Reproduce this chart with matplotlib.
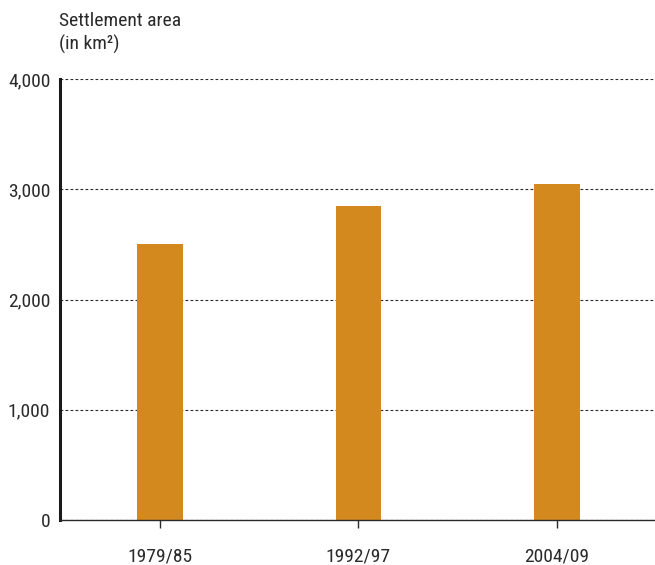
import matplotlib
matplotlib.use("Agg")
import matplotlib.pyplot as plt
from matplotlib import font_manager

# settlement area per survey period, km²
periods = ["1979/85", "1992/97", "2004/09"]
area_km2 = [2500, 2845, 3045]
yticks = [0, 1000, 2000, 3000, 4000]
ytick_labels = ["0", "1,000", "2,000", "3,000", "4,000"]

bar_color = "#D3891D"
ink = "#2a2a2a"

names = {f.name for f in font_manager.fontManager.ttflist}
family = "DejaVu Sans"
for cand in ["Roboto Condensed", "Liberation Sans Narrow", "Liberation Sans"]:
    if cand in names:
        family = cand
        break
plt.rcParams["font.family"] = family
fs = 14

fig = plt.figure(figsize=(6.55, 5.65), dpi=100)
ax = fig.add_axes([60 / 655, 45 / 565, 595 / 655, 441 / 565])

x = range(len(periods))
ax.bar(x, area_km2, width=0.23, color=bar_color, zorder=2)

ax.set_xlim(-0.505, 2.495)
ax.set_ylim(0, 4000)
ax.set_xticks(list(x))
ax.set_xticklabels(periods, fontsize=fs, color=ink)
ax.set_yticks(yticks)
ax.set_yticklabels(ytick_labels, fontsize=fs, color=ink)

ax.tick_params(axis="x", length=6, width=1, color=ink, pad=14)
ax.tick_params(axis="y", length=0, pad=7)

ax.yaxis.grid(True, linestyle=(0, (2.5, 2)), linewidth=0.8, color=ink, zorder=1)
ax.set_axisbelow(True)

for side in ("top", "right"):
    ax.spines[side].set_visible(False)
ax.spines["left"].set_linewidth(2.2)
ax.spines["left"].set_color("#1a1a1a")
ax.spines["bottom"].set_linewidth(1)
ax.spines["bottom"].set_color(ink)

fig.text(59 / 655, 1 - 12 / 565, "Settlement area\n(in km²)", fontsize=fs,
         color=ink, va="top", ha="left", linespacing=1.3)

fig.savefig("out.png", dpi=100)
